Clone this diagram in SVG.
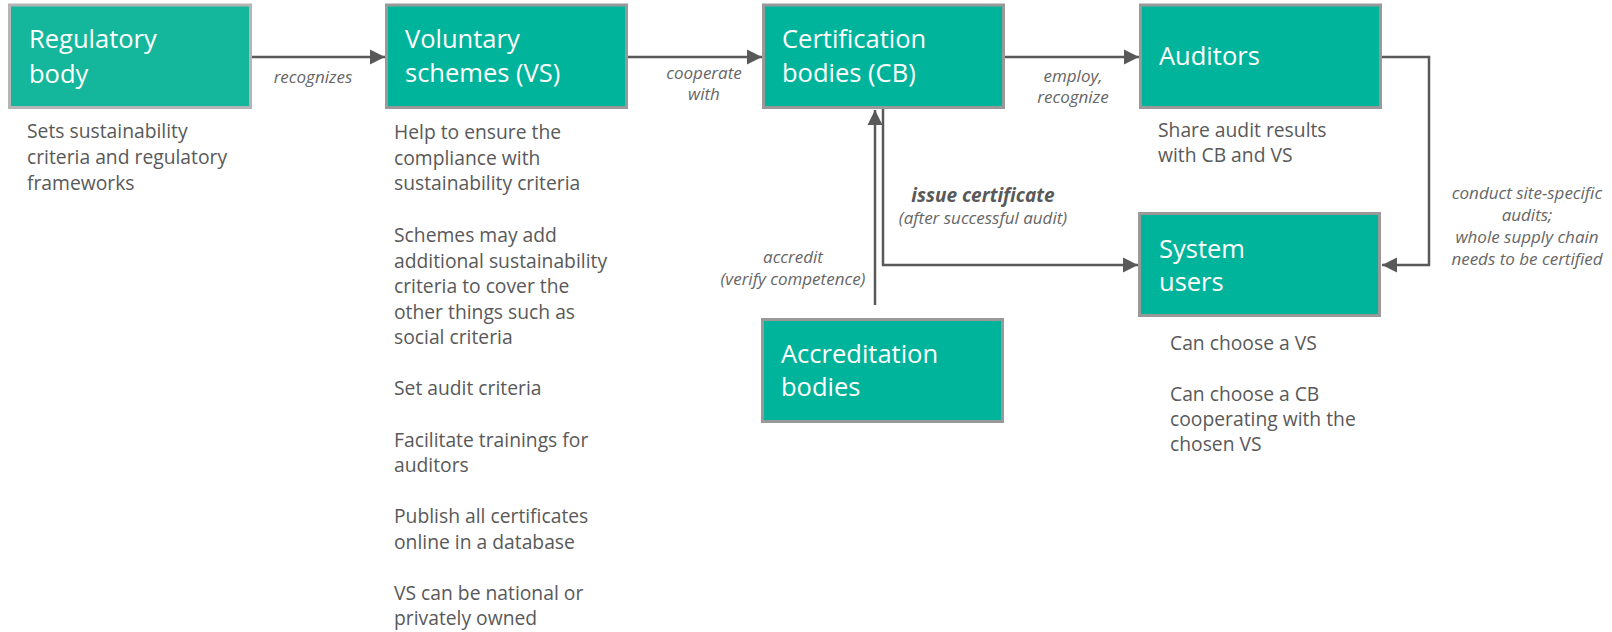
<svg xmlns="http://www.w3.org/2000/svg" width="1612" height="632" viewBox="0 0 1612 632">
<style>
.box{fill:#00b49b;stroke:#999999;stroke-width:3}
.title{font-family:"Open Sans","Liberation Sans",sans-serif;font-size:25.5px;fill:#ffffff}
.desc{font-family:"Open Sans","Liberation Sans",sans-serif;font-size:19.3px;fill:#595959}
.lbl{font-family:"Open Sans","Liberation Sans",sans-serif;font-size:17px;font-style:italic;fill:#666666;text-anchor:middle}
.lblb{font-family:"Open Sans","Liberation Sans",sans-serif;font-size:19px;font-style:italic;font-weight:bold;fill:#595959;text-anchor:middle}
.con{fill:none;stroke:#595959;stroke-width:2.5}
</style>
<defs>
<marker id="ah" markerUnits="userSpaceOnUse" markerWidth="16" markerHeight="16" refX="15" refY="8" orient="auto">
<path d="M0,0.5 L15,8 L0,15.5 Z" fill="#595959"/>
</marker>
</defs>
<rect width="1612" height="632" fill="#ffffff"/>
<g id="connectors">
<path class="con" d="M251,57 H385" marker-end="url(#ah)"/>
<path class="con" d="M628,57 H762" marker-end="url(#ah)"/>
<path class="con" d="M1005,57 H1139" marker-end="url(#ah)"/>
<path class="con" d="M1382,57 H1429 V265 H1382" marker-end="url(#ah)"/>
<path class="con" d="M883,109 V265 H1138" marker-end="url(#ah)"/>
<path class="con" d="M875,305 V110" marker-end="url(#ah)"/>
<text class="lbl" x="313" y="83">recognizes</text>
<text class="lbl" x="704" y="79">cooperate</text>
<text class="lbl" x="704" y="100">with</text>
<text class="lbl" x="1073" y="82">employ,</text>
<text class="lbl" x="1073" y="103">recognize</text>
<text class="lblb" x="983" y="202">issue certificate</text>
<text class="lbl" x="983" y="224">(after successful audit)</text>
<text class="lbl" x="793" y="263">accredit</text>
<text class="lbl" x="793" y="285">(verify competence)</text>
<text class="lbl" x="1527" y="199">conduct site-specific</text>
<text class="lbl" x="1527" y="221">audits;</text>
<text class="lbl" x="1527" y="243">whole supply chain</text>
<text class="lbl" x="1527" y="265">needs to be certified</text>
</g>
<g id="regulatory">
<rect class="box" x="9.5" y="5" width="241" height="102.5" style="fill:#14b79b;stroke:#b5b5b5"/>
<text class="title" x="29" y="48">Regulatory</text>
<text class="title" x="29" y="83">body</text>
<text class="desc" x="27" y="138">Sets sustainability</text>
<text class="desc" x="27" y="164">criteria and regulatory</text>
<text class="desc" x="27" y="190">frameworks</text>
</g>
<g id="voluntary">
<rect class="box" x="386.5" y="5" width="240" height="102.5"/>
<text class="title" x="405" y="48">Voluntary</text>
<text class="title" x="405" y="82">schemes (VS)</text>
<text class="desc" x="394" y="139">Help to ensure the</text>
<text class="desc" x="394" y="164.5">compliance with</text>
<text class="desc" x="394" y="190">sustainability criteria</text>
<text class="desc" x="394" y="242">Schemes may add</text>
<text class="desc" x="394" y="267.5">additional sustainability</text>
<text class="desc" x="394" y="293">criteria to cover the</text>
<text class="desc" x="394" y="318.5">other things such as</text>
<text class="desc" x="394" y="344">social criteria</text>
<text class="desc" x="394" y="395">Set audit criteria</text>
<text class="desc" x="394" y="446.5">Facilitate trainings for</text>
<text class="desc" x="394" y="472">auditors</text>
<text class="desc" x="394" y="523">Publish all certificates</text>
<text class="desc" x="394" y="548.5">online in a database</text>
<text class="desc" x="394" y="600">VS can be national or</text>
<text class="desc" x="394" y="625">privately owned</text>
</g>
<g id="certification">
<rect class="box" x="763.5" y="5" width="240" height="102.5"/>
<text class="title" x="782" y="48">Certification</text>
<text class="title" x="782" y="82">bodies (CB)</text>
</g>
<g id="auditors">
<rect class="box" x="1140.5" y="5" width="240" height="102.5"/>
<text class="title" x="1159" y="65">Auditors</text>
<text class="desc" x="1158" y="137">Share audit results</text>
<text class="desc" x="1158" y="162">with CB and VS</text>
</g>
<g id="system-users">
<rect class="box" x="1139.5" y="213.5" width="240" height="102"/>
<text class="title" x="1159" y="258">System</text>
<text class="title" x="1159" y="291">users</text>
<text class="desc" x="1170" y="350">Can choose a VS</text>
<text class="desc" x="1170" y="401">Can choose a CB</text>
<text class="desc" x="1170" y="426">cooperating with the</text>
<text class="desc" x="1170" y="451">chosen VS</text>
</g>
<g id="accreditation">
<rect class="box" x="762.5" y="319.5" width="240" height="102"/>
<text class="title" x="781" y="363">Accreditation</text>
<text class="title" x="781" y="396">bodies</text>
</g>
</svg>
